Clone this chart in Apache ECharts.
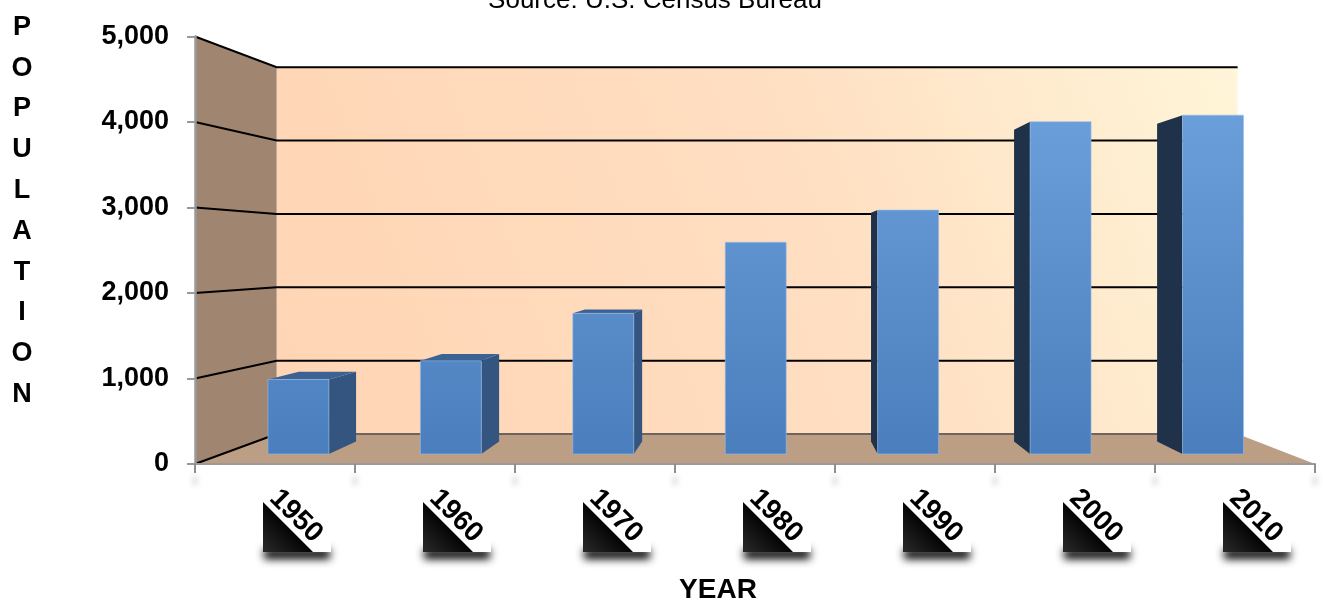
<!DOCTYPE html>
<html>
<head>
<meta charset="utf-8">
<script src="https://cdn.jsdelivr.net/npm/echarts@6/dist/echarts.min.js"></script>
<style>
  html, body { margin: 0; padding: 0; background: #ffffff; }
  #chart { width: 1323px; height: 605px; }
</style>
</head>
<body>
<div id="chart"></div>
<script>
// Population by census year
const years = ['1950', '1960', '1970', '1980', '1990', '2000', '2010'];
const population = [915, 1145, 1727, 2600, 2995, 4080, 4160];
const yTicks = [0, 1000, 2000, 3000, 4000, 5000];
const yAxisTitle = 'POPULATION';
const xAxisTitle = 'YEAR';
const sourceNote = 'Source: U.S. Census Bureau';

const FONT = '"Liberation Sans", Arial, Helvetica, sans-serif';

// Pseudo-3D box: the grid is the front plane, everything else is scaled
// toward a vanishing point (depth 1 = front plane).
const view = {
  vanishFrac: 0.5134,   // across the plot width
  vanishValue: 2470,    // on the value axis
  wallDepth: 0.858,
  barFront: 0.9527,
  barBack: 0.894,
  barHalf: 0.2          // half bar width, as a share of the category band
};

function frame(api) {
  const band = api.size([1, 0])[0];
  const left = api.coord([0, 0])[0] - band / 2;
  const right = api.coord([years.length - 1, 0])[0] + band / 2;
  const vx = left + view.vanishFrac * (right - left);
  const vy = api.coord([0, view.vanishValue])[1];
  const proj = (x, y, s) => [vx + s * (x - vx), vy + s * (y - vy)];
  return { band, left, right, vx, vy, proj };
}

function renderRoom(params, api) {
  const f = frame(api);
  const W = view.wallDepth;
  const yAt = v => api.coord([0, v])[1];
  const yBot = yAt(yTicks[0]);
  const yTop = yAt(yTicks[yTicks.length - 1]);
  const L = f.left, R = f.right;
  const children = [];

  // back wall
  const bTL = f.proj(L, yTop, W), bBR = f.proj(R, yBot, W);
  children.push({
    type: 'rect',
    shape: { x: bTL[0], y: bTL[1], width: bBR[0] - bTL[0], height: bBR[1] - bTL[1] },
    style: {
      fill: {
        type: 'linear', x: 0, y: 1, x2: 1, y2: 0,
        colorStops: [
          { offset: 0, color: '#FFD5B4' },
          { offset: 0.55, color: '#FFDEC1' },
          { offset: 1, color: '#FFF5D8' }
        ]
      }
    }
  });
  // side wall
  children.push({
    type: 'polygon',
    shape: { points: [[L, yTop], f.proj(L, yTop, W), f.proj(L, yBot, W), [L, yBot]] },
    style: { fill: '#A08570' }
  });
  // floor
  children.push({
    type: 'polygon',
    shape: { points: [[L, yBot], [R, yBot], f.proj(R, yBot, W), f.proj(L, yBot, W)] },
    style: { fill: '#BC9E85' }
  });
  // floor / back wall seam
  const s1 = f.proj(L, yBot, W), s2 = f.proj(R, yBot, W);
  children.push({
    type: 'line',
    shape: { x1: s1[0], y1: s1[1], x2: s2[0], y2: s2[1] },
    style: { stroke: '#6E645C', lineWidth: 2 }
  });
  // gridlines across side wall and back wall
  yTicks.forEach(v => {
    const y = yAt(v);
    const pts = v === yTicks[0]
      ? [[L, y], f.proj(L, y, W)]
      : [[L, y], f.proj(L, y, W), f.proj(R, y, W)];
    children.push({
      type: 'polyline',
      shape: { points: pts },
      style: { stroke: '#000000', lineWidth: 2, fill: null }
    });
  });
  return { type: 'group', children };
}

function renderBar(params, api) {
  const f = frame(api);
  const i = api.value(0), v = api.value(1);
  const base = api.coord([i, 0]);
  const top = api.coord([i, v]);
  const cx = base[0];
  const xl = cx - view.barHalf * f.band, xr = cx + view.barHalf * f.band;
  const y0 = base[1], yt = top[1];
  const F = (x, y) => f.proj(x, y, view.barFront);
  const B = (x, y) => f.proj(x, y, view.barBack);
  const plotTop = api.coord([0, yTicks[yTicks.length - 1]])[1];
  const children = [];

  if (xr < f.vx) {
    children.push({
      type: 'polygon',
      shape: { points: [F(xr, yt), B(xr, yt), B(xr, y0), F(xr, y0)] },
      style: { fill: '#34557F' }
    });
  }
  if (xl > f.vx) {
    children.push({
      type: 'polygon',
      shape: { points: [F(xl, yt), B(xl, yt), B(xl, y0), F(xl, y0)] },
      style: { fill: '#1F3249' }
    });
  }
  if (yt > f.vy) {
    children.push({
      type: 'polygon',
      shape: { points: [F(xl, yt), F(xr, yt), B(xr, yt), B(xl, yt)] },
      style: { fill: '#3C6293' }
    });
  }
  const a = F(xl, yt), b = F(xr, y0);
  children.push({
    type: 'rect',
    shape: { x: a[0], y: a[1], width: b[0] - a[0], height: b[1] - a[1] },
    style: {
      fill: {
        type: 'linear', x: 0, y: plotTop, x2: 0, y2: y0, global: true,
        colorStops: [
          { offset: 0, color: '#72A6E2' },
          { offset: 1, color: '#4A7DBB' }
        ]
      },
      stroke: 'rgba(150,190,235,0.6)',
      lineWidth: 1
    }
  });
  return { type: 'group', children };
}

function renderYearLabel(params, api) {
  const i = api.value(0);
  const base = api.coord([i, 0]);
  const cx = base[0], y0 = base[1];
  const sx = cx - 12, sy = y0 + 23, sw = 68, sh = 65;
  const away = 2000;
  return {
    type: 'group',
    children: [
      // soft drop shadow under the card (shape drawn off-canvas, only its shadow shows)
      {
        type: 'rect',
        shape: { x: sx + 1, y: sy + sh - 3 - away, width: sw - 2, height: 10 },
        style: {
          fill: '#000000',
          shadowBlur: 8,
          shadowColor: 'rgba(0,0,0,1)',
          shadowOffsetY: away
        }
      },
      {
        type: 'rect',
        shape: { x: sx, y: sy, width: sw, height: sh },
        style: { fill: '#ffffff' }
      },
      {
        type: 'polygon',
        shape: { points: [[sx, sy + 15], [sx, sy + sh], [sx + sh - 15, sy + sh]] },
        style: {
          fill: {
            type: 'linear', x: 1, y: 0, x2: 0, y2: 1,
            colorStops: [
              { offset: 0.45, color: '#000000' },
              { offset: 1, color: '#2a2a2a' }
            ]
          }
        }
      },
      {
        type: 'text',
        x: cx + 21,
        y: sy + 29,
        rotation: -Math.PI / 4,
        style: {
          text: years[i],
          fontSize: 28,
          fontWeight: 'bold',
          fontFamily: FONT,
          fill: '#000000',
          align: 'center',
          verticalAlign: 'middle'
        }
      }
    ]
  };
}

const barData = population.map((v, i) => [i, v]);
const catData = years.map((y, i) => [i, 0]);

const chart = echarts.init(document.getElementById('chart'), null, { renderer: 'canvas' });
chart.setOption({
  animation: false,
  backgroundColor: '#ffffff',
  grid: {
    left: 195, right: 8, top: 36.5, bottom: 141,
    containLabel: false,
    outerBoundsMode: 'none'
  },
  xAxis: {
    type: 'category',
    data: years,
    boundaryGap: true,
    z: 5,
    axisLine: { show: true, lineStyle: { color: '#999999', width: 2 } },
    axisTick: {
      show: true, length: 9, alignWithLabel: false,
      lineStyle: { color: '#8f8f8f', width: 2, shadowColor: 'rgba(0,0,0,0.35)', shadowBlur: 6, shadowOffsetY: 12 }
    },
    axisLabel: { show: false },
    splitLine: { show: false }
  },
  yAxis: {
    type: 'value',
    min: yTicks[0],
    max: yTicks[yTicks.length - 1],
    interval: yTicks[1] - yTicks[0],
    z: 5,
    axisLine: { show: true, lineStyle: { color: '#999999', width: 2.5 } },
    axisTick: { show: true, length: 8, lineStyle: { color: '#999999', width: 2 } },
    axisLabel: {
      margin: 26,
      fontSize: 27,
      fontWeight: 'bold',
      fontFamily: FONT,
      color: '#000000',
      formatter: v => v.toLocaleString('en-US')
    },
    splitLine: { show: false }
  },
  graphic: [
    {
      type: 'text',
      x: 655, y: 14,
      style: {
        text: sourceNote,
        fontSize: 26,
        fontFamily: FONT,
        fill: '#000000',
        align: 'center',
        verticalAlign: 'bottom'
      }
    },
    {
      type: 'text',
      x: 22, y: 7,
      style: {
        text: yAxisTitle.split('').join('\n'),
        fontSize: 27,
        fontWeight: 'bold',
        fontFamily: FONT,
        fill: '#000000',
        align: 'center',
        verticalAlign: 'top',
        lineHeight: 40.8
      }
    },
    {
      type: 'text',
      x: 718, y: 590,
      style: {
        text: xAxisTitle,
        fontSize: 28,
        fontWeight: 'bold',
        fontFamily: FONT,
        fill: '#000000',
        align: 'center',
        verticalAlign: 'middle'
      }
    }
  ],
  series: [
    {
      name: 'room',
      type: 'custom',
      renderItem: renderRoom,
      data: [[0, 0]],
      clip: false,
      silent: true,
      z: 1
    },
    {
      name: 'Population',
      type: 'custom',
      renderItem: renderBar,
      data: barData,
      clip: false,
      z: 2
    },
    {
      name: 'years',
      type: 'custom',
      renderItem: renderYearLabel,
      data: catData,
      clip: false,
      silent: true,
      z: 3
    }
  ]
});
</script>
</body>
</html>
